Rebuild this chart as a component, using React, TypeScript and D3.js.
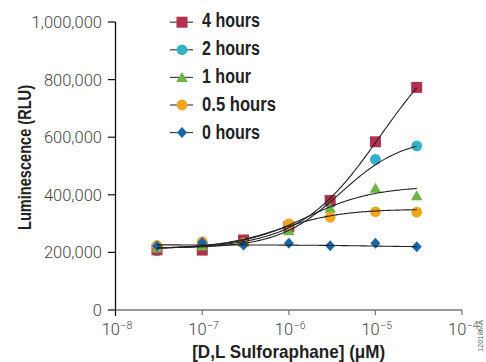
import React from "react";
import * as d3 from "d3";

const concentrations = [3e-8, 1e-7, 3e-7, 1e-6, 3e-6, 1e-5, 3e-5];
const seriesNames = ["4 hours", "2 hours", "1 hour", "0.5 hours", "0 hours"];
const seriesColors = ["#B3304F", "#35B2CB", "#6DB544", "#F0A51F", "#1766AD"];
const seriesShapes = ["square", "circle", "triangle", "circle", "diamond"];
const values4h = [209000, 208000, 243000, 289000, 380000, 584000, 773000];
const values2h = [205000, 232000, 238000, 290000, 370000, 523000, 570000];
const values1h = [215000, 222000, 235000, 275000, 353000, 423000, 397000];
const values05h = [224000, 237000, 232000, 299000, 322000, 341000, 340000];
const values0h = [222000, 234000, 226000, 232000, 223000, 232000, 220000];
// 4-parameter logistic fit parameters: [bottom, top, log10 EC50, hill]
const fit4h = [212000, 1000000, -4.94, 0.93];
const fit2h = [215000, 600000, -5.4, 1.2];
const fit1h = [213000, 430000, -5.8, 1.1];
const fit05h = [213000, 350000, -6.1, 1.2];
const fit0h = [226000, 218000, -5.0, 1.0];
const yTicks = [0, 200000, 400000, 600000, 800000, 1000000];
const xTickExps = [-8, -7, -6, -5, -4];

const seriesValues = [values4h, values2h, values1h, values05h, values0h];
const seriesFits = [fit4h, fit2h, fit1h, fit05h, fit0h];
const drawOrder = [1, 0, 2, 3, 4];
const legendTextLengths = [58, 58, 49, 74, 58];

const x = d3.scaleLog().domain([1e-8, 1e-4]).range([115.7, 462]);
const y = d3.scaleLinear().domain([0, 1000000]).range([310, 22]);

function logistic(p: number[], c: number) {
  const [b, t, le, h] = p;
  return b + (t - b) / (1 + Math.pow(10, (le - Math.log10(c)) * h));
}

function Marker({ shape, cx, cy, color }: { shape: string; cx: number; cy: number; color: string }) {
  if (shape === "square") return <rect x={cx - 5.5} y={cy - 5.5} width={11} height={11} fill={color} />;
  if (shape === "circle") return <circle cx={cx} cy={cy} r={5.4} fill={color} />;
  if (shape === "triangle")
    return <path d={`M${cx},${cy - 5.5}L${cx + 5.8},${cy + 4.5}L${cx - 5.8},${cy + 4.5}Z`} fill={color} />;
  return <path d={`M${cx},${cy - 5.5}L${cx + 5},${cy}L${cx},${cy + 5.5}L${cx - 5},${cy}Z`} fill={color} />;
}

export default function App() {
  const samples = d3.range(0, 201).map((i) => Math.pow(10, Math.log10(3e-8) + (i / 200) * 3));
  const line = d3
    .line<number[]>()
    .x((d) => x(d[0]))
    .y((d) => y(d[1]));
  const boldFont = "'Liberation Sans Narrow', 'Arial Narrow', 'Liberation Sans', Arial, sans-serif";
  const tickFont = "Roboto, 'Liberation Sans', Arial, sans-serif";
  return (
    <svg width={486} height={362} style={{ position: "absolute", left: 0, top: 0 }}>
      <rect width={486} height={362} fill="#fff" />
      {/* x axis */}
      <line x1={115.5} x2={462} y1={310} y2={310} stroke="#777" strokeWidth={1.3} />
      {xTickExps.slice(1).map((e) => (
        <line key={e} x1={x(Math.pow(10, e))} x2={x(Math.pow(10, e))} y1={310} y2={315} stroke="#777" strokeWidth={1.2} />
      ))}
      {xTickExps.map((e) => (
        <text key={e} x={x(Math.pow(10, e)) - 14} y={335} fontFamily={tickFont} fontWeight={300} fontSize={16.5} fill="#444">
          10
          <tspan dx={0.5} dy={-6} fontSize={10.5}>{"\u2212" + Math.abs(e)}</tspan>
        </text>
      ))}
      {/* y axis */}
      <line x1={115.5} x2={115.5} y1={22} y2={316} stroke="#111" strokeWidth={1.3} />
      {yTicks.map((t) => (
        <g key={t}>
          <line x1={108} x2={115.5} y1={y(t)} y2={y(t)} stroke="#111" strokeWidth={1.2} />
          <text x={102} y={y(t) + 6} textAnchor="end" fontFamily={tickFont} fontWeight={300} fontSize={16.5} fill="#444">
            {d3.format(",")(t)}
          </text>
        </g>
      ))}
      {/* markers */}
      {drawOrder.map((si) =>
        seriesValues[si].map((v, i) => (
          <Marker key={si + "-" + i} shape={seriesShapes[si]} cx={x(concentrations[i])} cy={y(v)} color={seriesColors[si]} />
        ))
      )}
      {/* fitted curves */}
      {seriesFits.map((p, si) => (
        <path
          key={si}
          d={line(samples.map((c) => [c, logistic(p, c)])) || ""}
          fill="none"
          stroke="#222"
          strokeWidth={1.1}
        />
      ))}
      {/* legend */}
      {seriesNames.map((name, i) => {
        const my = 22.2 + i * 27.6;
        return (
          <g key={name}>
            <line x1={170} x2={193} y1={my} y2={my} stroke="#333" strokeWidth={1.1} />
            <Marker shape={seriesShapes[i]} cx={182} cy={my} color={seriesColors[i]} />
            <text
              x={202}
              y={27 + i * 28.1}
              fontFamily={boldFont}
              fontWeight="bold"
              fontSize={20}
              fill="#222"
              textLength={legendTextLengths[i]}
              lengthAdjust="spacingAndGlyphs"
            >
              {name}
            </text>
          </g>
        );
      })}
      {/* axis titles */}
      <text
        transform="translate(31,157.5) rotate(-90)"
        textAnchor="middle"
        fontFamily={boldFont}
        fontWeight="bold"
        fontSize={18.5}
        fill="#222"
        textLength={145}
        lengthAdjust="spacingAndGlyphs"
      >
        Luminescence (RLU)
      </text>
      <text
        x={288.7}
        y={358}
        textAnchor="middle"
        fontFamily={boldFont}
        fontWeight="bold"
        fontSize={18.5}
        fill="#222"
        textLength={193}
        lengthAdjust="spacingAndGlyphs"
      >
        [D,L Sulforaphane] (μM)
      </text>
      <text transform="translate(483,336) rotate(-90)" textAnchor="middle" fontFamily="'Liberation Sans', Arial, sans-serif" fontSize={7.5} fill="#666">
        12018MA
      </text>
    </svg>
  );
}
